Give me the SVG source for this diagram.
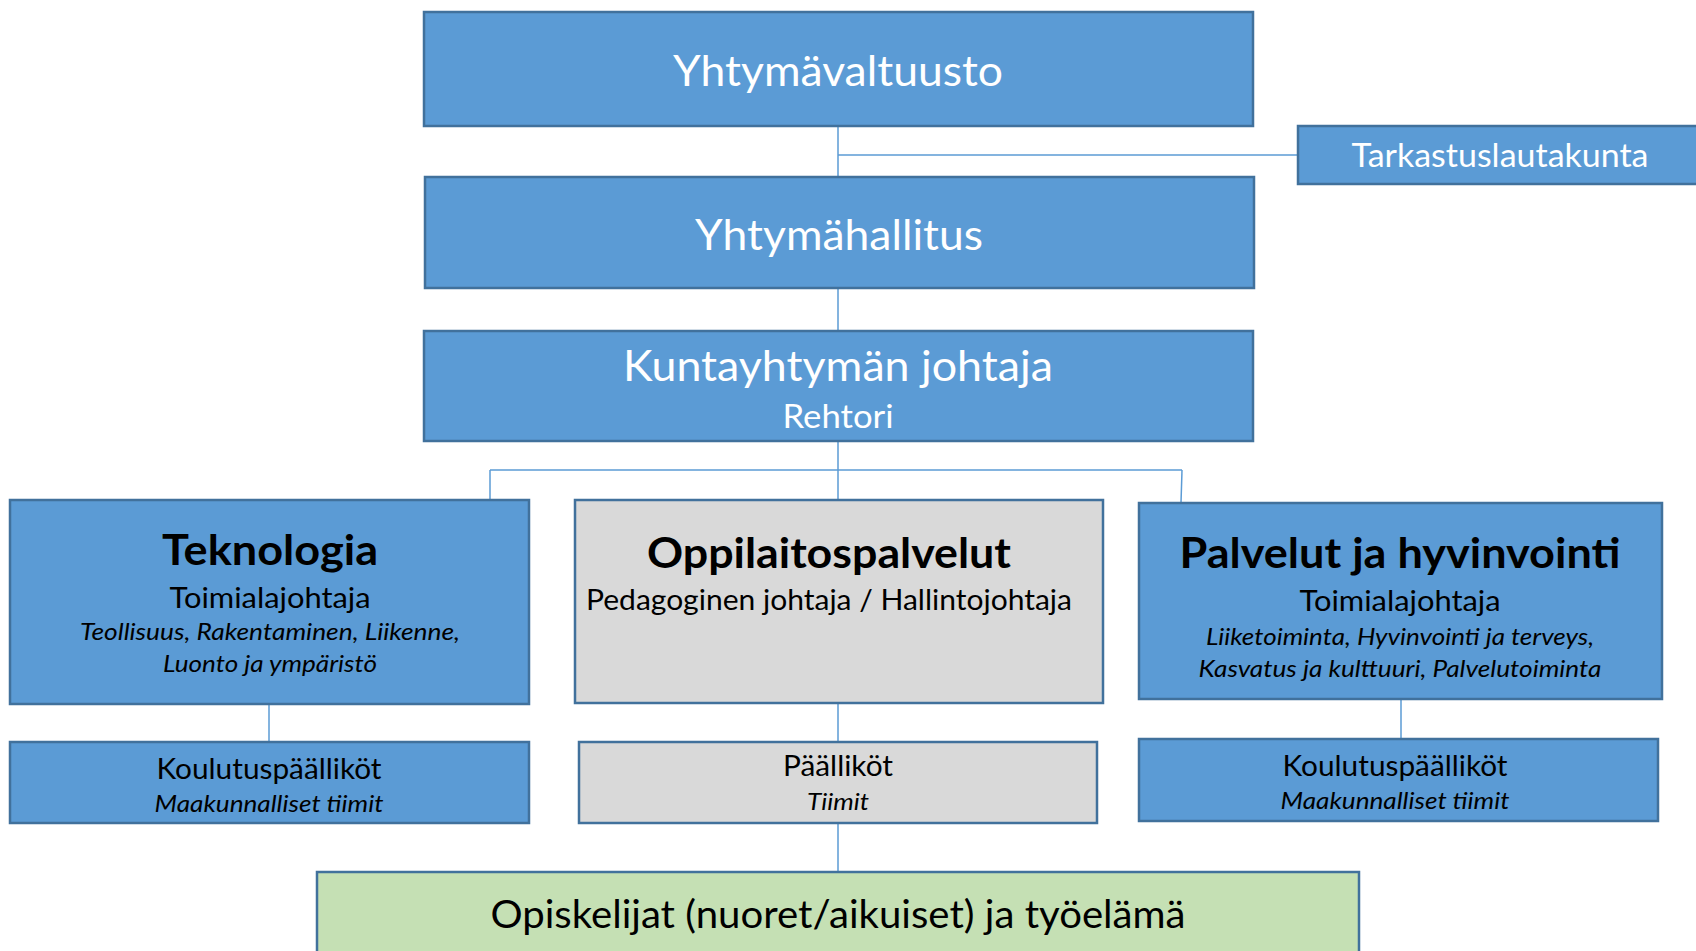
<svg xmlns="http://www.w3.org/2000/svg" width="1696" height="951" viewBox="0 0 1696 951">
<style>
.box{fill:#5B9BD5;stroke:#41719C;stroke-width:2.5}
.gray{fill:#D9D9D9;stroke:#41719C;stroke-width:2.5}
.green{fill:#C5E0B4;stroke:#41719C;stroke-width:2.5}
text{font-family:Lato,"Open Sans","Liberation Sans",sans-serif;text-anchor:middle}
.w{fill:#FFFFFF}
.k{fill:#000000}
.b{font-weight:bold}
.i{font-style:italic}
.conn line{stroke:#5B9BD5;stroke-width:1.5;fill:none}
</style>
<rect width="1696" height="951" fill="#FFFFFF"/>
<g id="connectors" class="conn">
<line x1="838" y1="127" x2="838" y2="176"/>
<line x1="838" y1="155" x2="1298" y2="155"/>
<line x1="838" y1="289" x2="838" y2="330"/>
<line x1="838" y1="441" x2="838" y2="499"/>
<line x1="490" y1="470" x2="1182" y2="470"/>
<line x1="490" y1="470" x2="490" y2="499"/>
<line x1="1182" y1="470" x2="1181" y2="503"/>
<line x1="269" y1="704" x2="269" y2="742"/>
<line x1="838" y1="703" x2="838" y2="742"/>
<line x1="1401" y1="699" x2="1401" y2="739"/>
<line x1="838" y1="823" x2="838" y2="872"/>
</g>
<g id="yhtymavaltuusto">
<rect class="box" x="424" y="12" width="829" height="114"/>
<text class="w" x="838" y="86" font-size="43" textLength="330" lengthAdjust="spacingAndGlyphs">Yhtymävaltuusto</text>
</g>
<g id="tarkastuslautakunta">
<rect class="box" x="1298" y="126" width="410" height="58"/>
<text class="w" x="1500" y="167" font-size="33" textLength="297" lengthAdjust="spacingAndGlyphs">Tarkastuslautakunta</text>
</g>
<g id="yhtymahallitus">
<rect class="box" x="425" y="177" width="829" height="111"/>
<text class="w" x="839" y="250" font-size="43" textLength="288" lengthAdjust="spacingAndGlyphs">Yhtymähallitus</text>
</g>
<g id="kuntayhtyman-johtaja">
<rect class="box" x="424" y="331" width="829" height="110"/>
<text class="w" x="838" y="381" font-size="43" textLength="430" lengthAdjust="spacingAndGlyphs">Kuntayhtymän johtaja</text>
<text class="w" x="838" y="428" font-size="32" textLength="111" lengthAdjust="spacingAndGlyphs">Rehtori</text>
</g>
<g id="teknologia">
<rect class="box" x="10" y="500" width="519" height="204"/>
<text class="k b" x="270" y="565" font-size="42" textLength="216" lengthAdjust="spacingAndGlyphs">Teknologia</text>
<text class="k" x="270" y="608" font-size="29" textLength="201" lengthAdjust="spacingAndGlyphs">Toimialajohtaja</text>
<text class="k i" x="270" y="640" font-size="23.5" textLength="380" lengthAdjust="spacingAndGlyphs">Teollisuus, Rakentaminen, Liikenne,</text>
<text class="k i" x="270" y="672" font-size="23.5" textLength="214" lengthAdjust="spacingAndGlyphs">Luonto ja ympäristö</text>
</g>
<g id="oppilaitospalvelut">
<rect class="gray" x="575" y="500" width="528" height="203"/>
<text class="k b" x="829" y="568" font-size="42" textLength="364" lengthAdjust="spacingAndGlyphs">Oppilaitospalvelut</text>
<text class="k" x="829" y="610" font-size="29" textLength="486" lengthAdjust="spacingAndGlyphs">Pedagoginen johtaja / Hallintojohtaja</text>
</g>
<g id="palvelut-ja-hyvinvointi">
<rect class="box" x="1139" y="503" width="523" height="196"/>
<text class="k b" x="1400" y="568" font-size="42" textLength="441" lengthAdjust="spacingAndGlyphs">Palvelut ja hyvinvointi</text>
<text class="k" x="1400" y="611" font-size="29" textLength="201" lengthAdjust="spacingAndGlyphs">Toimialajohtaja</text>
<text class="k i" x="1400" y="645" font-size="23.5" textLength="388" lengthAdjust="spacingAndGlyphs">Liiketoiminta, Hyvinvointi ja terveys,</text>
<text class="k i" x="1400" y="677" font-size="23.5" textLength="403" lengthAdjust="spacingAndGlyphs">Kasvatus ja kulttuuri, Palvelutoiminta</text>
</g>
<g id="koulutuspaallikot-teknologia">
<rect class="box" x="10" y="742" width="519" height="81"/>
<text class="k" x="269" y="779" font-size="29" textLength="225" lengthAdjust="spacingAndGlyphs">Koulutuspäälliköt</text>
<text class="k i" x="269" y="812" font-size="23.5" textLength="229" lengthAdjust="spacingAndGlyphs">Maakunnalliset tiimit</text>
</g>
<g id="paallikot">
<rect class="gray" x="579" y="742" width="518" height="81"/>
<text class="k" x="838" y="776" font-size="29" textLength="110" lengthAdjust="spacingAndGlyphs">Päälliköt</text>
<text class="k i" x="838" y="810" font-size="23.5" textLength="62" lengthAdjust="spacingAndGlyphs">Tiimit</text>
</g>
<g id="koulutuspaallikot-palvelut">
<rect class="box" x="1139" y="739" width="519" height="82"/>
<text class="k" x="1395" y="776" font-size="29" textLength="225" lengthAdjust="spacingAndGlyphs">Koulutuspäälliköt</text>
<text class="k i" x="1395" y="809" font-size="23.5" textLength="229" lengthAdjust="spacingAndGlyphs">Maakunnalliset tiimit</text>
</g>
<g id="opiskelijat">
<rect class="green" x="317" y="872" width="1042" height="90"/>
<text class="k" x="838" y="928" font-size="38" textLength="695" lengthAdjust="spacingAndGlyphs">Opiskelijat (nuoret/aikuiset) ja työelämä</text>
</g>
</svg>
